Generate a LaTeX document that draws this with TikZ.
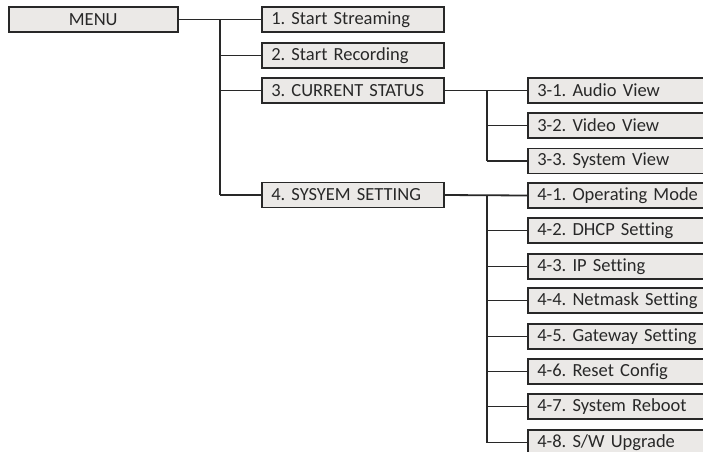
\documentclass[tikz,border=0pt]{standalone}
\usepackage{fontspec}
\setmainfont[Ligatures={NoCommon}]{Carlito}
\frenchspacing
\definecolor{boxfill}{RGB}{235,233,231}
\definecolor{ink}{RGB}{40,40,40}
\begin{document}
\begin{tikzpicture}[x=1pt,y=-1pt,
  box/.style={draw=ink, line width=1.5pt, fill=boxfill, minimum height=25pt, inner xsep=9.5pt, inner ysep=0pt,
    anchor=west, text=ink, font=\fontsize{18.5}{20}\selectfont, text width=#1, align=left},
  box/.default=163pt,
  wire/.style={draw=ink, line width=1.8pt}]
\useasboundingbox (0,0) rectangle (703,451);
\clip (0,0) rectangle (703,451);
\node[box=150pt, align=center] (menu) at (8,19.5) {MENU};
\node[box] (b1) at (261,19.5) {1. Start Streaming};
\node[box] (b2) at (261,55.5) {2. Start Recording};
\node[box] (b3) at (261,90.5) {3. CURRENT STATUS};
\node[box] (b4) at (261,195) {4. SYSYEM SETTING};
\node[box=170pt] (c1) at (527,90.5) {3-1. Audio View};
\node[box=170pt] (c2) at (527,125.5) {3-2. Video View};
\node[box=170pt] (c3) at (527,161) {3-3. System View};
\node[box=170pt] (d1) at (527,195.5) {4-1. Operating Mode};
\node[box=170pt] (d2) at (527,230.5) {4-2. DHCP Setting};
\node[box=170pt] (d3) at (527,266.5) {4-3. IP Setting};
\node[box=170pt] (d4) at (527,300.5) {4-4. Netmask Setting};
\node[box=170pt] (d5) at (527,336.5) {4-5. Gateway Setting};
\node[box=170pt] (d6) at (527,371.5) {4-6. Reset Config};
\node[box=170pt] (d7) at (527,406.5) {4-7. System Reboot};
\node[box=170pt] (d8) at (527,442.5) {4-8. S/W Upgrade};
\coordinate (t1) at (220,19.5);
\coordinate (t3) at (487,90.5);
\coordinate (t4) at (487,195);
\path[wire] (menu.east) -- (b1.west);
\path[wire] (t1) -- (t1 |- b4.west);
\foreach \n in {b2,b3,b4} \path[wire] (t1 |- \n.west) -- (\n.west);
\path[wire] (b3.east) -- (c1.west);
\path[wire] (t3) -- (t3 |- c3.west);
\foreach \n in {c2,c3} \path[wire] (t3 |- \n.west) -- (\n.west);
\path[wire] (b4.east) -- (d1.west);
\path[wire] (t4) -- (t4 |- d8.west);
\foreach \n in {d2,d3,d4,d5,d6,d7,d8} \path[wire] (t4 |- \n.west) -- (\n.west);
\end{tikzpicture}
\end{document}
